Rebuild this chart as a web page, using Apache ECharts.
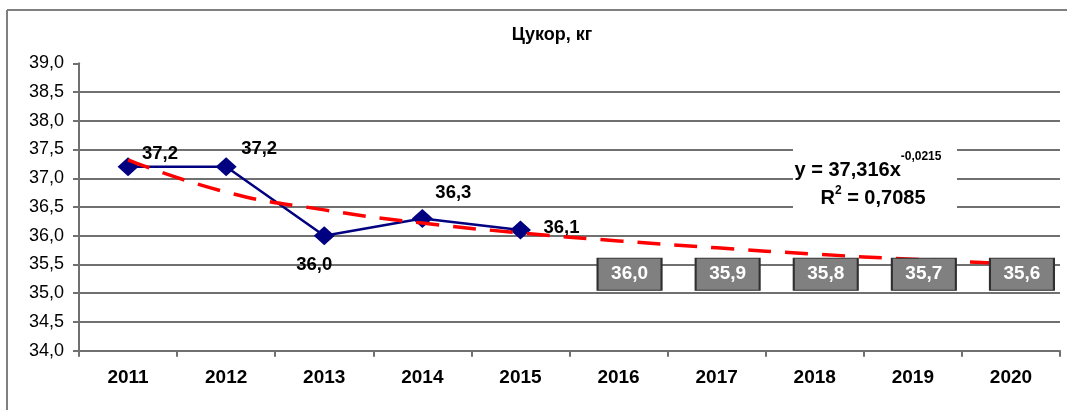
<!DOCTYPE html>
<html>
<head>
<meta charset="utf-8">
<script src="https://cdn.jsdelivr.net/npm/echarts@6/dist/echarts.min.js"></script>
<style>
html,body{margin:0;padding:0;background:#fff;}
#chart{width:1067px;height:410px;}
</style>
</head>
<body>
<div id="chart"></div>
<script>
// ---- data ----
const titleText = 'Цукор, кг';
const years = ['2011', '2012', '2013', '2014', '2015', '2016', '2017', '2018', '2019', '2020'];
const actual = [37.2, 37.2, 36.0, 36.3, 36.1, null, null, null, null, null];
const trend = [37.32, 36.76, 36.45, 36.22, 36.05, 35.91, 35.79, 35.68, 35.59, 35.51];
const forecastYears = ['2016', '2017', '2018', '2019', '2020'];
const forecast = [36.0, 35.9, 35.8, 35.7, 35.6];
const yMin = 34.0, yMax = 39.0, yStep = 0.5;
const equationLine1 = 'y = 37,316x';
const equationExp = '-0,0215';
const r2Label = 'R';
const r2Exp = '2';
const r2Value = ' = 0,7085';

// ---- layout (not data) ----
const labelOffsets = [[32, -13], [33, -18], [-10, 29], [31, -26], [41, -2]];
const boxLevel = 35.33;

const fmt = v => Number(v).toFixed(1).replace('.', ',');
const FONT = '"Liberation Sans", Arial, sans-serif';

const chart = echarts.init(document.getElementById('chart'), null, {renderer: 'canvas'});

const mctx = document.createElement('canvas').getContext('2d');
function tw(text, font) { mctx.font = font; return mctx.measureText(text).width; }

const mainFont = 'bold 20px "Liberation Sans", Arial, sans-serif';
const supFont = 'bold 12px "Liberation Sans", Arial, sans-serif';
const cx = 868;
const l1w = tw(equationLine1, mainFont) + tw(equationExp, supFont);
const l1x = cx - l1w / 2;
const l2w = tw(r2Label, mainFont) + tw(r2Exp, supFont) + tw(r2Value, mainFont);
const l2x = cx - l2w / 2 + 5;

const option = {
  animation: false,
  title: {
    text: titleText,
    left: 547, top: 21, textAlign: 'center',
    textStyle: {fontFamily: FONT, fontSize: 18, fontWeight: 'bold', color: '#000'}
  },
  grid: {left: 79, right: 7, top: 63.3, bottom: 59.3, containLabel: false},
  xAxis: {
    type: 'category',
    data: years,
    boundaryGap: true,
    axisLine: {lineStyle: {color: '#707070', width: 2}},
    axisTick: {show: true, length: 6, lineStyle: {color: '#707070', width: 2}},
    axisLabel: {fontFamily: FONT, fontSize: 19, fontWeight: 'bold', color: '#000', margin: 18},
    splitLine: {show: false}
  },
  yAxis: {
    type: 'value',
    min: yMin, max: yMax, interval: yStep,
    axisLine: {show: true, lineStyle: {color: '#707070', width: 2}},
    axisTick: {show: true, length: 6, lineStyle: {color: '#707070', width: 2}},
    axisLabel: {fontFamily: FONT, fontSize: 18, color: '#000', margin: 15, formatter: v => fmt(v)},
    splitLine: {show: true, showMaxLine: false, lineStyle: {color: '#404040', width: 1.5}}
  },
  series: [
    {
      name: 'fact',
      type: 'line',
      data: actual.map((v, i) => v === null ? null : {
        value: v,
        label: {show: true, position: 'inside', offset: labelOffsets[i]}
      }),
      symbol: 'diamond',
      symbolSize: [21, 19],
      lineStyle: {color: '#000080', width: 2.5},
      itemStyle: {color: '#000080'},
      label: {
        show: true, color: '#000', fontFamily: FONT, fontSize: 18.5, fontWeight: 'bold',
        formatter: p => fmt(p.value)
      },
      z: 3
    },
    {
      name: 'trend',
      type: 'line',
      data: trend,
      smooth: true,
      showSymbol: false,
      symbol: 'none',
      lineStyle: {color: '#ff0000', width: 3.5, type: [23, 14]},
      z: 4
    },
    {
      name: 'forecast',
      type: 'scatter',
      data: forecastYears.map((y, i) => [y, boxLevel, forecast[i]]),
      encode: {x: 0, y: 1},
      symbol: 'rect',
      symbolSize: [64, 32],
      symbolOffset: [11, 0],
      itemStyle: {color: '#808080', borderColor: '#303030', borderWidth: 1.5, opacity: 1},
      label: {
        show: true, position: 'inside', color: '#fff',
        fontFamily: FONT, fontSize: 19, fontWeight: 'bold',
        formatter: p => fmt(p.value[2])
      },
      z: 5
    }
  ],
  graphic: [
    {type: 'line', z: 50, shape: {x1: 7, y1: 10, x2: 1067, y2: 10}, style: {stroke: '#808080', lineWidth: 2}, silent: true},
    {type: 'line', z: 50, shape: {x1: 7, y1: 10, x2: 7, y2: 410}, style: {stroke: '#808080', lineWidth: 2}, silent: true},
    {type: 'rect', z: 60, shape: {x: 793, y: 138, width: 164, height: 80}, style: {fill: '#ffffff'}, silent: true},
    {type: 'text', z: 61, x: l1x, y: 170, style: {text: equationLine1, font: mainFont, fill: '#000', verticalAlign: 'middle'}},
    {type: 'text', z: 61, x: l1x + tw(equationLine1, mainFont), y: 157, style: {text: equationExp, font: supFont, fill: '#000', verticalAlign: 'middle'}},
    {type: 'text', z: 61, x: l2x, y: 198, style: {text: r2Label, font: mainFont, fill: '#000', verticalAlign: 'middle'}},
    {type: 'text', z: 61, x: l2x + tw(r2Label, mainFont), y: 191, style: {text: r2Exp, font: supFont, fill: '#000', verticalAlign: 'middle'}},
    {type: 'text', z: 61, x: l2x + tw(r2Label, mainFont) + tw(r2Exp, supFont), y: 198, style: {text: r2Value, font: mainFont, fill: '#000', verticalAlign: 'middle'}}
  ]
};
chart.setOption(option);
</script>
</body>
</html>
